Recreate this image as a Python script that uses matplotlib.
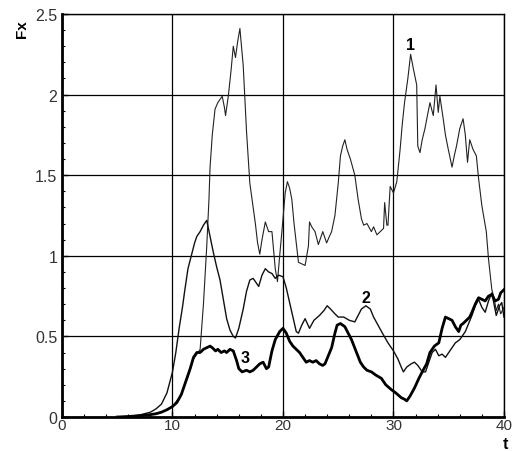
import matplotlib
matplotlib.use("Agg")
import matplotlib.pyplot as plt
from matplotlib.ticker import MultipleLocator

plt.rcParams['font.family'] = ['Liberation Sans', 'DejaVu Sans']

# curve 1 (thin, upper)
t1 = [5.0, 6.0, 7.0, 8.0, 9.0, 10.0, 10.8, 11.4, 11.9, 12.3, 12.5, 12.8, 13.1, 13.3, 13.4,
      13.6, 13.85, 14.1, 14.3, 14.5, 14.7, 14.8, 15.05, 15.3, 15.5, 15.7, 15.9, 16.1, 16.4,
      16.7, 17.0, 17.2, 17.5, 17.7, 17.9, 18.1, 18.4, 18.7, 19.0, 19.3, 19.5, 19.7, 19.9,
      20.2, 20.4, 20.6, 20.8, 21.0, 21.2, 21.4, 21.7, 22.0, 22.3, 22.4, 22.6, 22.9, 23.2,
      23.6, 23.95, 24.2, 24.4, 24.7, 25.0, 25.2, 25.4, 25.6, 25.8, 26.1, 26.3, 26.5, 26.8,
      27.1, 27.3, 27.6, 28.0, 28.2, 28.5, 28.8, 29.1, 29.2, 29.4, 29.5, 29.7, 30.0, 30.3,
      30.6, 30.8, 31.0, 31.3, 31.55, 31.8, 32.1, 32.2, 32.4, 32.6, 32.85, 33.1, 33.3, 33.6,
      33.85, 34.05, 34.2, 34.5, 34.7, 34.96, 35.3, 35.5, 35.7, 36.0, 36.3, 36.5, 36.7, 36.9,
      37.2, 37.5, 37.7, 38.0, 38.4, 38.6, 38.9, 39.1, 39.3, 39.5, 39.7, 40.0]
f1 = [0.0, 0.003, 0.008, 0.015, 0.03, 0.065, 0.14, 0.25, 0.36, 0.40, 0.42, 0.70, 1.06, 1.35, 1.55,
      1.75, 1.91, 1.95, 1.97, 1.99, 1.92, 1.87, 1.99, 2.15, 2.30, 2.23, 2.33, 2.41, 2.18,
      1.77, 1.45, 1.35, 1.20, 1.08, 1.01, 1.10, 1.21, 1.15, 1.15, 0.92, 0.84, 1.00, 1.15,
      1.39, 1.46, 1.42, 1.35, 1.20, 1.08, 0.96, 0.95, 0.94, 1.06, 1.21, 1.18, 1.15, 1.07,
      1.15, 1.08, 1.12, 1.15, 1.25, 1.45, 1.62, 1.68, 1.72, 1.66, 1.60, 1.55, 1.50, 1.35,
      1.23, 1.19, 1.20, 1.15, 1.18, 1.13, 1.15, 1.17, 1.33, 1.19, 1.19, 1.43, 1.39, 1.46,
      1.66, 1.82, 1.95, 2.10, 2.25, 2.16, 2.06, 1.68, 1.64, 1.72, 1.79, 1.88, 1.95, 1.87,
      2.06, 1.89, 1.99, 1.85, 1.75, 1.66, 1.55, 1.62, 1.68, 1.79, 1.85, 1.75, 1.58, 1.72,
      1.66, 1.62, 1.48, 1.31, 1.15, 0.98, 0.79, 0.74, 0.66, 0.70, 0.64, 0.68]

# curve 2 (thin, middle)
t2 = [5.0, 6.0, 7.0, 8.0, 8.5, 9.0, 9.5, 10.0, 10.3, 10.6, 10.9, 11.1, 11.4, 11.7, 12.0,
      12.2, 12.5, 12.8, 13.1, 13.4, 13.7, 14.0, 14.3, 14.6, 14.9, 15.2, 15.5, 15.7, 16.0,
      16.4, 16.7, 17.0, 17.3, 17.6, 17.8, 18.1, 18.4, 18.7, 19.0, 19.3, 19.6, 20.0, 20.3,
      20.6, 20.9, 21.2, 21.4, 21.7, 22.0, 22.2, 22.4, 22.8, 23.3, 23.7, 24.0, 24.3, 24.7,
      25.0, 25.5, 26.0, 26.5, 26.8, 27.1, 27.5, 27.9, 28.2, 28.6, 29.0, 29.5, 30.0, 30.4,
      30.7, 30.9, 31.2, 31.6, 31.9, 32.2, 32.6, 32.9, 33.2, 33.5, 33.8, 34.1, 34.4, 34.7,
      35.0, 35.3, 35.6, 36.0, 36.5, 36.8, 37.1, 37.4, 37.7, 38.0, 38.3, 38.6, 38.9, 39.1,
      39.3, 39.6, 39.8, 40.0]
f2 = [0.0, 0.004, 0.012, 0.03, 0.05, 0.08, 0.15, 0.28, 0.40, 0.55, 0.68, 0.78, 0.92, 1.00, 1.08,
      1.12, 1.15, 1.19, 1.22, 1.12, 1.02, 0.93, 0.85, 0.73, 0.61, 0.54, 0.50, 0.49, 0.55,
      0.67, 0.78, 0.85, 0.86, 0.83, 0.81, 0.88, 0.92, 0.90, 0.89, 0.86, 0.88, 0.87, 0.80,
      0.71, 0.62, 0.53, 0.52, 0.57, 0.61, 0.58, 0.55, 0.60, 0.63, 0.66, 0.69, 0.67, 0.64,
      0.62, 0.62, 0.60, 0.59, 0.63, 0.67, 0.69, 0.67, 0.62, 0.57, 0.52, 0.46, 0.41, 0.36,
      0.31, 0.28, 0.31, 0.33, 0.34, 0.32, 0.28, 0.28, 0.34, 0.40, 0.42, 0.38, 0.39, 0.37,
      0.40, 0.43, 0.46, 0.48, 0.53, 0.58, 0.63, 0.69, 0.73, 0.68, 0.65, 0.72, 0.77, 0.70,
      0.63, 0.69, 0.71, 0.62]

# curve 3 (thick, lower)
t3 = [5.0, 6.0, 7.0, 8.0, 8.5, 9.0, 9.5, 10.0, 10.4, 10.8, 11.2, 11.6, 11.9, 12.2, 12.5,
      12.8, 13.1, 13.4, 13.6, 13.9, 14.1, 14.4, 14.7, 14.9, 15.2, 15.5, 15.8, 16.0, 16.3,
      16.7, 17.0, 17.3, 17.6, 17.9, 18.2, 18.5, 18.7, 19.0, 19.3, 19.7, 20.0, 20.3, 20.6,
      20.9, 21.2, 21.5, 21.8, 22.1, 22.4, 22.7, 23.0, 23.3, 23.6, 23.8, 24.1, 24.4, 24.7,
      24.9, 25.2, 25.6, 25.9, 26.2, 26.6, 27.0, 27.3, 27.6, 28.0, 28.4, 28.9, 29.3, 29.8,
      30.2, 30.7, 31.0, 31.2, 31.5, 31.9, 32.3, 32.6, 33.0, 33.3, 33.7, 34.1, 34.4, 34.7,
      35.0, 35.3, 35.6, 35.9, 36.1, 36.3, 36.6, 36.9, 37.1, 37.4, 37.7, 38.0, 38.3, 38.6,
      38.9, 39.2, 39.5, 39.7, 40.0]
f3 = [0.0, 0.003, 0.008, 0.015, 0.02, 0.03, 0.045, 0.065, 0.09, 0.14, 0.22, 0.30, 0.37, 0.40, 0.40,
      0.42, 0.43, 0.44, 0.43, 0.41, 0.42, 0.40, 0.41, 0.40, 0.42, 0.41, 0.35, 0.30, 0.28,
      0.29, 0.28, 0.29, 0.31, 0.33, 0.34, 0.30, 0.31, 0.41, 0.48, 0.53, 0.55, 0.52, 0.47,
      0.44, 0.42, 0.40, 0.37, 0.34, 0.35, 0.34, 0.35, 0.33, 0.32, 0.33, 0.38, 0.43, 0.52,
      0.57, 0.58, 0.56, 0.52, 0.48, 0.41, 0.34, 0.31, 0.29, 0.28, 0.26, 0.24, 0.20, 0.17,
      0.15, 0.12, 0.11, 0.10, 0.13, 0.18, 0.24, 0.28, 0.33, 0.40, 0.44, 0.46, 0.55, 0.62,
      0.61, 0.60, 0.56, 0.53, 0.57, 0.58, 0.60, 0.62, 0.65, 0.70, 0.74, 0.73, 0.72, 0.75,
      0.76, 0.72, 0.73, 0.77, 0.79]

labels = ['1', '2', '3']
label_pos = [(31.5, 2.31), (27.5, 0.74), (16.6, 0.37)]

fig = plt.figure(figsize=(5.15, 4.52), dpi=100)
ax = fig.add_axes([0.1204, 0.0752, 0.8582, 0.8916])

ax.plot(t1, f1, color='#222222', lw=0.8)
ax.plot(t2, f2, color='#111111', lw=1.0)
ax.plot(t3, f3, color='black', lw=2.0)

for lab, (x, y) in zip(labels, label_pos):
    ax.text(x, y, lab, fontsize=11.5, fontweight='bold', ha='center', va='center')

ax.set_xlim(0, 40)
ax.set_ylim(0, 2.5)
ax.xaxis.set_major_locator(MultipleLocator(10))
ax.xaxis.set_minor_locator(MultipleLocator(2))
ax.yaxis.set_major_locator(MultipleLocator(0.5))
ax.yaxis.set_minor_locator(MultipleLocator(0.1))
ax.xaxis.set_major_formatter(plt.FuncFormatter(lambda v, p: '%g' % v))
ax.yaxis.set_major_formatter(plt.FuncFormatter(lambda v, p: '%g' % v))
ax.grid(True, which='major', color='black', lw=0.9)
ax.tick_params(which='both', direction='in', top=False, right=False,
               labelsize=11.5, labelcolor='#333333')
ax.tick_params(which='major', length=4, width=1)
ax.tick_params(which='minor', length=2.5, width=0.8)
ax.tick_params(axis='x', pad=1, labelsize=11)
ax.spines['left'].set_linewidth(2)
ax.spines['bottom'].set_linewidth(2)
ax.spines['top'].set_linewidth(1)
ax.spines['right'].set_linewidth(1)

fig.text(0.043, 0.935, 'Fx', rotation=90, fontsize=11, fontweight='bold',
         ha='center', va='center')
fig.text(0.982, 0.0, 't', fontsize=11.5, fontweight='bold', ha='center', va='bottom')

fig.savefig('out.png', dpi=100)
